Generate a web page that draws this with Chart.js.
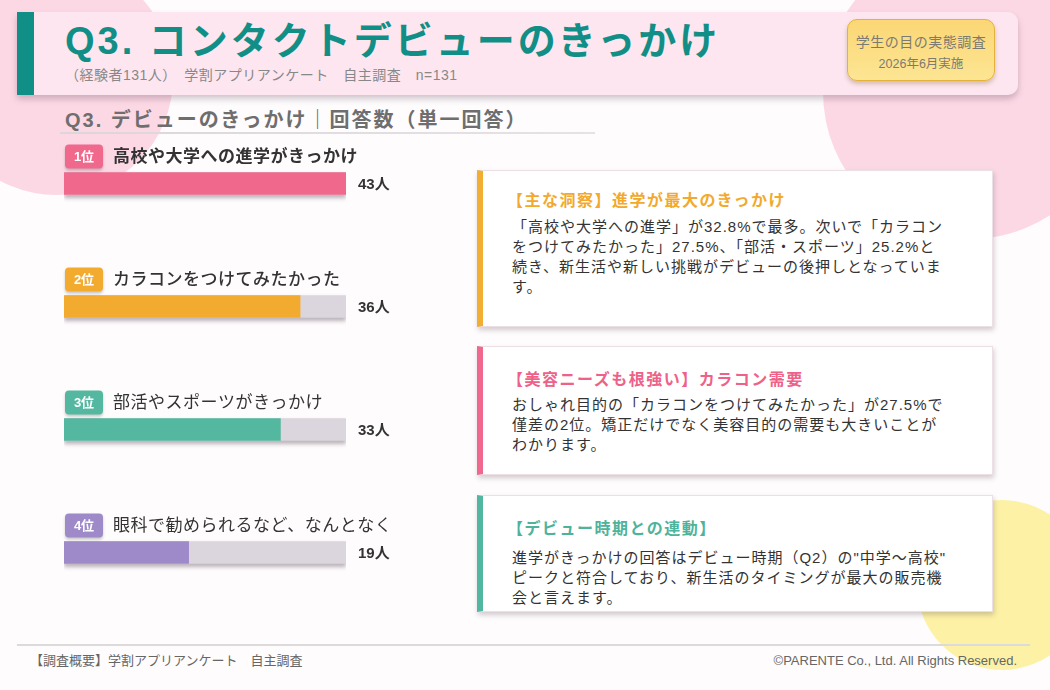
<!DOCTYPE html>
<html lang="ja">
<head>
<meta charset="utf-8">
<title>Q3. コンタクトデビューのきっかけ</title>
<script src="https://cdn.jsdelivr.net/npm/chart.js@4.4.1/dist/chart.umd.min.js"></script>
<style>
  html, body { margin: 0; padding: 0; }
  body {
    width: 1050px; height: 690px; overflow: hidden; position: relative;
    background: #fefcfd;
    font-family: "Liberation Sans", "Noto Sans CJK JP", sans-serif;
    color: #333;
  }
  .blob { position: absolute; border-radius: 50%; z-index: 0; }
  .blob.pink1 { left: -61px; top: -39px; width: 234px; height: 234px; background: #fcd8e5; }
  .blob.pink2 { left: 823px; top: -55px; width: 294px; height: 294px; background: #fcd8e5; }
  .blob.yellow { left: 917px; top: 500px; width: 170px; height: 170px; background: #fdf1a6; }

  .header {
    position: absolute; left: 17px; top: 12px; width: 1001px; height: 83px;
    background: #fde6ef; border-radius: 0 10px 10px 0;
    box-shadow: 0 4px 6px rgba(90, 60, 80, 0.28); z-index: 2;
  }
  .header .accent { position: absolute; left: 0; top: 0; width: 17px; height: 100%; background: #0f8f86; }
  .header h1 {
    position: absolute; left: 48px; top: 5px; margin: 0;
    font-size: 38px; line-height: 48px; font-weight: bold; color: #118f87; letter-spacing: 3px;
  }
  .header .sub {
    position: absolute; left: 48px; top: 52px; font-size: 14px; color: #888; letter-spacing: 0.5px;
  }
  .stamp {
    position: absolute; left: 830px; top: 7px; width: 148px; height: 62px; box-sizing: border-box;
    background: linear-gradient(#fbd775, #fde593); border: 1.5px solid #e4b23a; border-radius: 10px;
    box-shadow: 0 3px 4px rgba(120, 90, 40, 0.3); text-align: center; color: #7d7a72;
  }
  .stamp .l1 { font-size: 14px; margin-top: 12px; letter-spacing: 0.5px; line-height: 20px; }
  .stamp .l2 { font-size: 12.5px; line-height: 18px; margin-top: 3px; }

  .section {
    position: absolute; left: 65px; top: 106px; font-size: 20px; font-weight: bold;
    color: #6e6e6e; letter-spacing: 2px; line-height: 28px; z-index: 2;
  }
  .section-line {
    position: absolute; left: 60px; top: 132px; width: 535px; height: 2px;
    background: linear-gradient(90deg, #dcd6da, #e6e2e5); z-index: 2;
  }

  #chartBox { position: absolute; left: 0; top: 100px; width: 470px; height: 530px; z-index: 3; }

  .card {
    position: absolute; left: 477px; width: 516px; box-sizing: border-box;
    background: #fff; border: 1px solid #ecdfe5; border-left: 6px solid;
    box-shadow: 1px 3px 5px rgba(80, 60, 70, 0.25); z-index: 2;
    padding-left: 29px; padding-right: 20px;
  }
  .card .t { font-size: 16px; font-weight: bold; letter-spacing: 1.5px; line-height: 22px; margin-left: -5px; }
  .card .b { font-size: 15px; letter-spacing: 1px; line-height: 20px; color: #333; }
  .c1 { top: 170px; height: 157px; border-left-color: #f2ae33; padding-top: 19px; }
  .c1 .t { color: #f2a92c; margin-bottom: 5px; }
  .c2 { top: 346px; height: 129px; border-left-color: #f0688e; padding-top: 22px; }
  .c2 .t { color: #ee6189; margin-bottom: 4px; }
  .c3 { top: 495px; height: 117px; border-left-color: #52b7a0; padding-top: 22px; }
  .c3 .t { color: #4fb39b; margin-bottom: 8px; }

  .footer-line { position: absolute; left: 17px; top: 644px; width: 1013px; height: 2px; background: #dcdadb; z-index: 2; }
  .foot { position: absolute; top: 652px; font-size: 13px; color: #666; line-height: 18px; z-index: 2; }
  .foot.left { left: 30px; }
  .foot.right { right: 33px; }
</style>
</head>
<body>
<div class="blob pink1"></div>
<div class="blob pink2"></div>
<div class="blob yellow"></div>

<div class="header">
  <div class="accent"></div>
  <h1>Q3. コンタクトデビューのきっかけ</h1>
  <div class="sub">（経験者131人）　学割アプリアンケート　自主調査　n=131</div>
  <div class="stamp">
    <div class="l1">学生の目の実態調査</div>
    <div class="l2">2026年6月実施</div>
  </div>
</div>

<div class="section">Q3. デビューのきっかけ｜回答数（単一回答）</div>
<div class="section-line"></div>

<div id="chartBox"><canvas id="reasonChart"></canvas></div>

<div class="card c1">
  <div class="t">【主な洞察】進学が最大のきっかけ</div>
  <div class="b">「高校や大学への進学」が32.8%で最多。次いで「カラコン<br>をつけてみたかった」27.5%、「部活・スポーツ」25.2%と<br>続き、新生活や新しい挑戦がデビューの後押しとなっていま<br>す。</div>
</div>
<div class="card c2">
  <div class="t">【美容ニーズも根強い】カラコン需要</div>
  <div class="b">おしゃれ目的の「カラコンをつけてみたかった」が27.5%で<br>僅差の2位。矯正だけでなく美容目的の需要も大きいことが<br>わかります。</div>
</div>
<div class="card c3">
  <div class="t">【デビュー時期との連動】</div>
  <div class="b">進学がきっかけの回答はデビュー時期（Q2）の"中学～高校"<br>ピークと符合しており、新生活のタイミングが最大の販売機<br>会と言えます。</div>
</div>

<div class="footer-line"></div>
<div class="foot left">【調査概要】学割アプリアンケート　自主調査</div>
<div class="foot right">©PARENTE Co., Ltd. All Rights Reserved.</div>

<script>
// Q3 answers (single choice, n=131)
const reasons = ['高校や大学への進学がきっかけ', 'カラコンをつけてみたかった', '部活やスポーツがきっかけ', '眼科で勧められるなど、なんとなく'];
const counts = [43, 36, 33, 19];
const ranks = ['1位', '2位', '3位', '4位'];
const trackValues = [43, 43, 43, 43];
const unit = '人';

const barColors = ['#f0698d', '#f2ab2f', '#54b8a0', '#9e89c9'];
const fontFamily = '"Liberation Sans", "Noto Sans CJK JP", sans-serif';

// grey shadow under the tracks
const trackShadow = {
  id: 'trackShadow',
  beforeDatasetDraw(chart, args) {
    if (args.index !== 1) return;
    const ctx = chart.ctx;
    ctx.save();
    ctx.shadowColor = 'rgba(60, 40, 60, 0.35)';
    ctx.shadowBlur = 4;
    ctx.shadowOffsetY = 3;
  },
  afterDatasetDraw(chart, args) {
    if (args.index !== 1) return;
    chart.ctx.restore();
  }
};

// rank badge + answer text above each bar, count on the right
const rowLabels = {
  id: 'rowLabels',
  afterDatasetsDraw(chart) {
    const ctx = chart.ctx;
    const xScale = chart.scales.x;
    const left = xScale.getPixelForValue(0);
    const valueX = xScale.getPixelForValue(xScale.max) + 12;
    const weights = ['bold', '500', 'normal', 'normal'];
    chart.getDatasetMeta(0).data.forEach((bar, i) => {
      const labelY = bar.y - 27;

      ctx.save();
      ctx.shadowColor = 'rgba(0, 0, 0, 0.22)';
      ctx.shadowBlur = 3;
      ctx.shadowOffsetY = 2;
      ctx.fillStyle = barColors[i];
      ctx.beginPath();
      ctx.roundRect(left + 1, labelY - 12, 38, 24, 4);
      ctx.fill();
      ctx.restore();

      ctx.save();
      ctx.textBaseline = 'middle';
      ctx.fillStyle = '#fff';
      ctx.textAlign = 'center';
      ctx.font = 'bold 13px ' + fontFamily;
      ctx.fillText(ranks[i], left + 20, labelY + 1);

      ctx.textAlign = 'left';
      ctx.fillStyle = '#333';
      ctx.font = weights[i] + ' 17px ' + fontFamily;
      ctx.letterSpacing = '0.5px';
      ctx.fillText(reasons[i], left + 49, labelY + 1);

      ctx.letterSpacing = '0px';
      ctx.font = 'bold 15px ' + fontFamily;
      ctx.fillText(counts[i] + unit, valueX, bar.y + 1);
      ctx.restore();
    });
  }
};

const ctx = document.getElementById('reasonChart').getContext('2d');
const reasonChart = new Chart(ctx, {
  type: 'bar',
  data: {
    labels: reasons,
    datasets: [
      {
        label: '回答数',
        data: counts,
        backgroundColor: barColors,
        barThickness: 22,
        borderSkipped: false,
        grouped: false
      },
      {
        label: 'track',
        data: trackValues,
        backgroundColor: '#dbd5dd',
        barThickness: 22,
        grouped: false
      }
    ]
  },
  plugins: [trackShadow, rowLabels],
  options: {
    indexAxis: 'y',
    responsive: true,
    maintainAspectRatio: false,
    animation: false,
    layout: { padding: { left: 64, right: 124, top: 22, bottom: 16 } },
    scales: {
      x: { display: false, min: 0, max: Math.max(...counts) },
      y: { display: false }
    },
    plugins: {
      legend: { display: false },
      tooltip: { enabled: false }
    }
  }
});
</script>
</body>
</html>
